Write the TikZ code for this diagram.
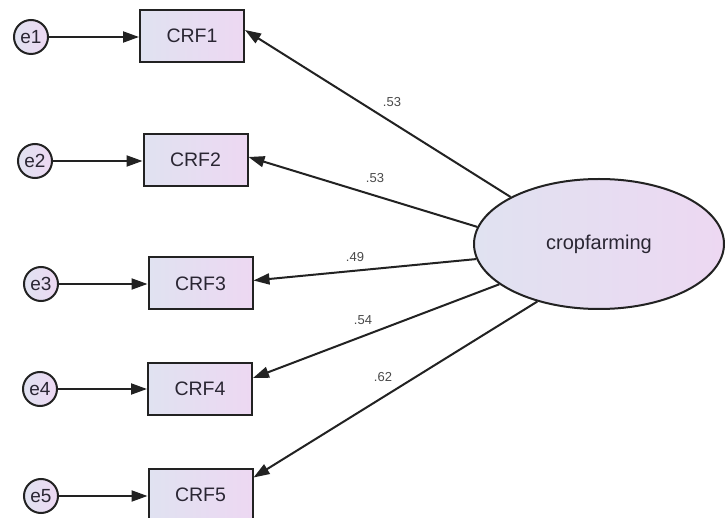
\documentclass[tikz,border=0pt]{standalone}
\usepackage{fontspec}
\setmainfont{Liberation Sans}
\usetikzlibrary{arrows.meta,shapes.geometric}
\definecolor{lineclr}{HTML}{222222}
\definecolor{txtclr}{HTML}{2A2633}
\definecolor{lblclr}{HTML}{4A4A4A}
\definecolor{fillL}{HTML}{E0E2F1}
\definecolor{fillR}{HTML}{EDD8F2}
\begin{document}
\begin{tikzpicture}[x=1pt,y=-1pt,
  obs/.style={draw=lineclr,line width=2pt,rectangle,minimum width=104pt,minimum height=52pt,inner sep=0pt,
    left color=fillL,right color=fillR,text=txtclr,font=\fontsize{19.5}{19.5}\selectfont},
  err/.style={draw=lineclr,line width=2pt,circle,minimum size=34pt,inner sep=0pt,
    left color=fillL,right color=fillR,text=txtclr,font=\fontsize{19}{19}\selectfont},
  lat/.style={draw=lineclr,line width=2pt,ellipse,minimum width=250pt,minimum height=130pt,inner sep=0pt,
    left color=fillL,right color=fillR,text=txtclr,font=\fontsize{20}{20}\selectfont},
  arr/.style={draw=lineclr,line width=2pt,-{Triangle[length=16pt,width=11pt]}},
  lbl/.style={text=lblclr,font=\fontsize{13}{13}\selectfont,inner sep=0pt}]
\useasboundingbox (0,0) rectangle (725,518);
\clip (0,0) rectangle (725,518);
\fill[white] (0,0) rectangle (725,518);

\node[obs] (crf1) at (192,36) {CRF1};
\node[obs] (crf2) at (195.5,160) {CRF2};
\node[obs] (crf3) at (200.5,283.5) {CRF3};
\node[obs] (crf4) at (200,389) {CRF4};
\node[obs] (crf5) at (200.5,494.5) {CRF5};

\node[err] (e1) at (31,37) {e1};
\node[err] (e2) at (35,161) {e2};
\node[err] (e3) at (41,284) {e3};
\node[err] (e4) at (40,389) {e4};
\node[err] (e5) at (41,496) {e5};

\node[lat] (cf) at (599,244) {cropfarming};

\draw[arr] (e1) -- (crf1.west |- e1);
\draw[arr] (e2) -- (crf2.west |- e2);
\draw[arr] (e3) -- (crf3.west |- e3);
\draw[arr] (e4) -- (crf4.west |- e4);
\draw[arr] (e5) -- (crf5.west |- e5);

\draw[arr] (cf.152.7) -- ([yshift=6pt]crf1.east);
\draw[arr] (cf.172.6) -- ([yshift=3pt]crf2.east);
\draw[arr] (cf.187.2) -- ([yshift=3pt]crf3.east);
\draw[arr] (cf.202) -- ([yshift=11pt]crf4.east);
\draw[arr] (cf.223.1) -- ([yshift=17pt]crf5.east);

\node[lbl] (l1) at (392,102) {.53};
\node[lbl] (l2) at (375,178) {.53};
\node[lbl] (l3) at (355,257) {.49};
\node[lbl] (l4) at (363,320) {.54};
\node[lbl] (l5) at (383,377) {.62};
\end{tikzpicture}
\end{document}
